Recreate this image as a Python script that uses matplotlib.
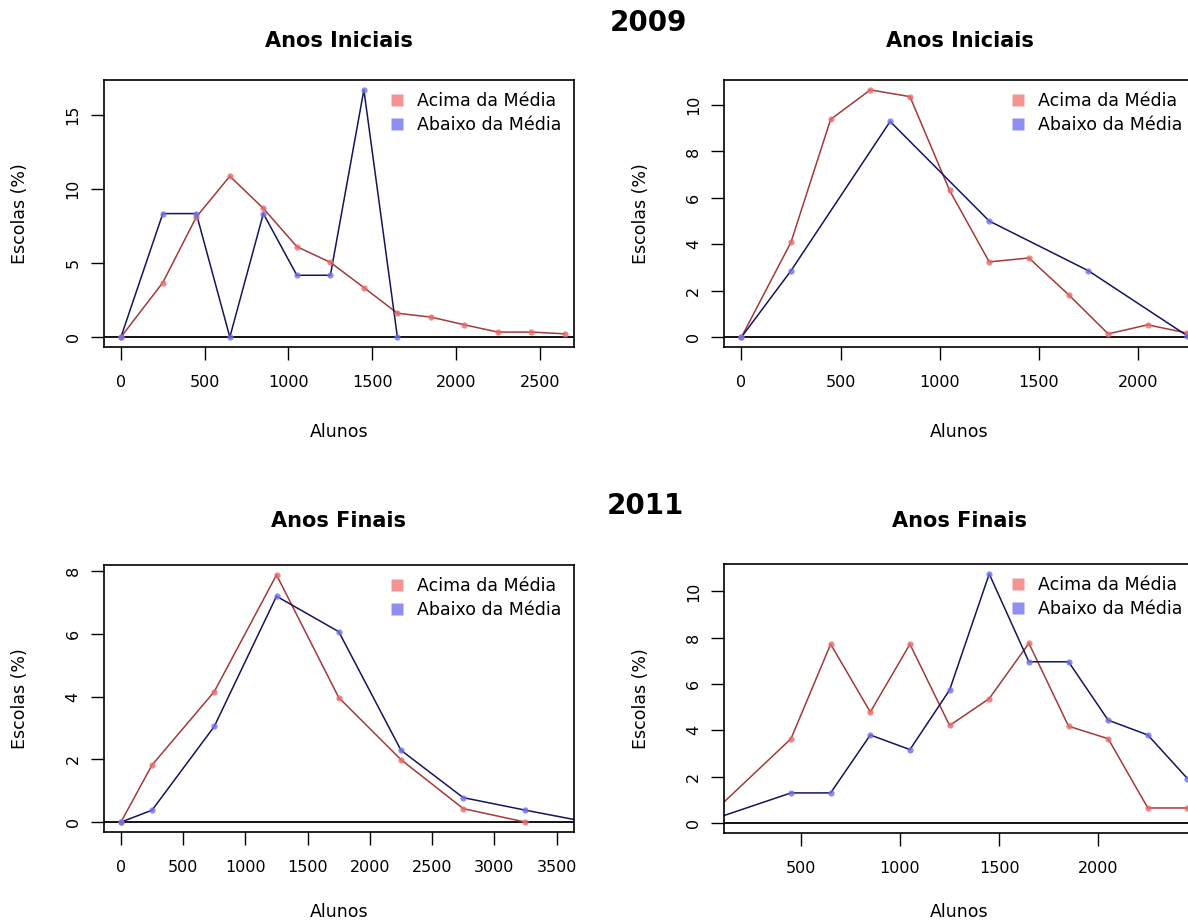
import matplotlib
matplotlib.use("Agg")
import matplotlib.pyplot as plt
from matplotlib.lines import Line2D

plt.rcParams["font.family"] = ["DejaVu Sans"]

# 2009 - Anos Iniciais
x_ai09_acima = [0, 250, 450, 650, 850, 1050, 1250, 1450, 1650, 1850, 2050, 2250, 2450, 2650]
y_ai09_acima = [0, 3.68, 8.1, 10.85, 8.68, 6.1, 5.04, 3.34, 1.61, 1.35, 0.83, 0.34, 0.34, 0.22]
x_ai09_abaixo = [0, 250, 450, 650, 850, 1050, 1250, 1450, 1650]
y_ai09_abaixo = [0, 8.33, 8.33, 0, 8.33, 4.17, 4.17, 16.67, 0]

# 2009 (right) - Anos Iniciais
x_ai11_acima = [0, 250, 450, 650, 850, 1050, 1250, 1450, 1650, 1850, 2050, 2250]
y_ai11_acima = [0, 4.09, 9.38, 10.65, 10.36, 6.32, 3.24, 3.41, 1.83, 0.14, 0.53, 0.17]
x_ai11_abaixo = [0, 250, 750, 1250, 1750, 2250]
y_ai11_abaixo = [0, 2.86, 9.29, 5.0, 2.86, 0.05]

# 2011 - Anos Finais
x_af09_acima = [0, 250, 750, 1250, 1750, 2250, 2750, 3250]
y_af09_acima = [0, 1.82, 4.16, 7.88, 3.97, 1.99, 0.43, 0.0]
x_af09_abaixo = [0, 250, 750, 1250, 1750, 2250, 2750, 3250, 3750]
y_af09_abaixo = [0, 0.38, 3.05, 7.2, 6.07, 2.29, 0.78, 0.38, 0.0]

x_af11 = [0, 450, 650, 850, 1050, 1250, 1450, 1650, 1850, 2050, 2250, 2450]
y_af11_acima = [0, 3.64, 7.72, 4.79, 7.72, 4.21, 5.37, 7.76, 4.18, 3.64, 0.65, 0.65]
y_af11_abaixo = [0, 1.30, 1.30, 3.80, 3.17, 5.74, 10.75, 6.96, 6.96, 4.44, 3.80, 1.92]

W, H = 1188, 924
RED_LINE, RED_PT, RED_LEG = "#a33a3a", "#e86a6a", "#f29494"
BLUE_LINE, BLUE_PT, BLUE_LEG = "#15155e", "#6f6ff0", "#8f8ff2"


def box(l, t, r, b):
    return [l / W, 1 - b / H, (r - l) / W, (b - t) / H]


def panel(rect, xa, ya, xb, yb, xlim, xticks, yticks, title, title_y, xlab_off=85):
    ax = fig.add_axes(box(*rect))
    ax.plot(xa, ya, color=RED_LINE, lw=1.1, zorder=2)
    ax.plot(xa, ya, "o", color=RED_PT, ms=4.5, alpha=0.8, mec="none", zorder=3)
    ax.plot(xb, yb, color=BLUE_LINE, lw=1.1, zorder=2)
    ax.plot(xb, yb, "o", color=BLUE_PT, ms=4.5, alpha=0.8, mec="none", zorder=3)
    ax.axhline(0, color="black", lw=1.3, zorder=1)
    ymax = max(max(ya), max(yb))
    ax.set_ylim(-0.04 * ymax, 1.04 * ymax)
    ax.set_xlim(*xlim)
    ax.set_xticks(xticks)
    ax.set_yticks(yticks)
    ax.tick_params(direction="out", length=9.5, width=1.0, labelsize=11.5)
    ax.tick_params(axis="x", pad=11)
    ax.tick_params(axis="y", pad=7)
    plt.setp(ax.get_yticklabels(), rotation=90, va="center")
    for s in ax.spines.values():
        s.set_linewidth(1.2)
    handles = [Line2D([], [], ls="none", marker="s", ms=9, color=RED_LEG, mec="none"),
               Line2D([], [], ls="none", marker="s", ms=9, color=BLUE_LEG, mec="none")]
    ax.legend(handles, ["Acima da Média", "Abaixo da Média"], loc="upper right",
              frameon=False, fontsize=12.5, handlelength=0.8, handletextpad=0.8,
              labelspacing=0.35, borderaxespad=0.4, borderpad=0.3)
    l, t, r, b = rect
    cx = (l + r) / 2
    fig.text(cx / W, 1 - title_y / H, title, ha="center", va="center",
             fontsize=15, fontweight="bold")
    fig.text(cx / W, 1 - (b + xlab_off) / H, "Alunos", ha="center", va="center",
             fontsize=12.5)
    fig.text((l - 83) / W, 1 - ((t + b) / 2) / H, "Escolas (%)", ha="center",
             va="center", rotation=90, fontsize=12.5)
    return ax


fig = plt.figure(figsize=(W / 100, H / 100), dpi=100)

panel((103.5, 80, 574, 347), x_ai09_acima, y_ai09_acima, x_ai09_abaixo, y_ai09_abaixo,
      (-104, 2704), [0, 500, 1000, 1500, 2000, 2500], [0, 5, 10, 15], "Anos Iniciais", 41)
panel((724, 80, 1195, 347), x_ai11_acima, y_ai11_acima, x_ai11_abaixo, y_ai11_abaixo,
      (-88, 2288), [0, 500, 1000, 1500, 2000], [0, 2, 4, 6, 8, 10], "Anos Iniciais", 41)
panel((103.5, 565, 574, 832), x_af09_acima, y_af09_acima, x_af09_abaixo, y_af09_abaixo,
      (-140, 3640), [0, 500, 1000, 1500, 2000, 2500, 3000, 3500], [0, 2, 4, 6, 8],
      "Anos Finais", 521, xlab_off=80)
panel((724, 564, 1195, 833), x_af11, y_af11_acima, x_af11, y_af11_abaixo,
      (112, 2488), [500, 1000, 1500, 2000], [0, 2, 4, 6, 8, 10], "Anos Finais", 521,
      xlab_off=79)

fig.text(648 / W, 1 - 23 / H, "2009", ha="center", va="center", fontsize=20, fontweight="bold")
fig.text(645 / W, 1 - 506 / H, "2011", ha="center", va="center", fontsize=20, fontweight="bold")

fig.savefig("out.png", dpi=100)
